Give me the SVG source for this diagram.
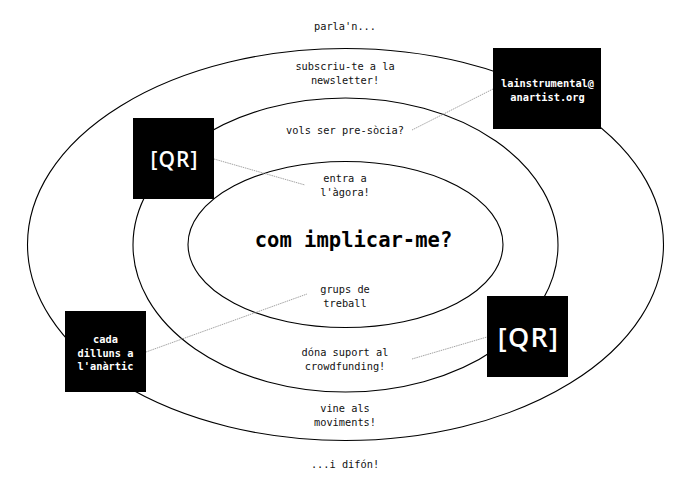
<svg xmlns="http://www.w3.org/2000/svg" width="690" height="487" viewBox="0 0 690 487">
<style>
.ring{fill:none;stroke:#000;stroke-width:1.1}
.lead{fill:none;stroke:#999;stroke-width:0.9;stroke-dasharray:1.5 0.8}
.t{font-family:"DejaVu Sans Mono","Liberation Mono",monospace;font-size:10.3px;fill:#111;text-anchor:middle}
.title{font-family:"DejaVu Sans Mono","Liberation Mono",monospace;font-size:20.5px;font-weight:bold;fill:#000;text-anchor:middle}
.box{fill:#000}
.bt{font-family:"DejaVu Sans Mono","Liberation Mono",monospace;font-size:10.3px;font-weight:bold;fill:#fff;text-anchor:middle}
.qr{font-family:"Open Sans","Noto Sans",sans-serif;font-weight:600;fill:#fff;text-anchor:middle}
</style>
<rect width="690" height="487" fill="#fff"/>
<g id="rings">
<ellipse id="outer" class="ring" cx="345.5" cy="244.5" rx="318" ry="196"/>
<ellipse id="middle" class="ring" cx="345.5" cy="245" rx="212.5" ry="147"/>
<ellipse id="inner" class="ring" cx="345.5" cy="244.5" rx="157.5" ry="83"/>
</g>
<g id="connectors">
<line class="lead" x1="412" y1="130" x2="493" y2="89"/>
<line class="lead" x1="214" y1="159" x2="305" y2="185"/>
<line class="lead" x1="146" y1="352" x2="307" y2="294"/>
<line class="lead" x1="412" y1="359" x2="487" y2="337"/>
</g>
<g id="labels">
<text class="t" x="345" y="30">parla'n...</text>
<text class="t" x="345" y="69.5">subscriu-te a la</text>
<text class="t" x="345" y="83.5">newsletter!</text>
<text class="t" x="345" y="133.5">vols ser pre-sòcia?</text>
<text class="t" x="345" y="182">entra a</text>
<text class="t" x="345" y="196">l'àgora!</text>
<text class="title" x="353.5" y="246.5">com implicar-me?</text>
<text class="t" x="345" y="292.5">grups de</text>
<text class="t" x="345" y="306.5">treball</text>
<text class="t" x="345" y="355.5">dóna suport al</text>
<text class="t" x="345" y="369.5">crowdfunding!</text>
<text class="t" x="345" y="411.5">vine als</text>
<text class="t" x="345" y="425.5">moviments!</text>
<text class="t" x="345" y="467.5">...i difón!</text>
</g>
<g id="email">
<rect class="box" x="493" y="48" width="108" height="81"/>
<text class="bt" x="547.5" y="86.5">lainstrumental@</text>
<text class="bt" x="547.5" y="100.5">anartist.org</text>
</g>
<g id="qr1">
<rect class="box" x="133" y="118" width="81" height="81"/>
<text class="qr" x="174.5" y="167" font-size="21" letter-spacing="1">[QR]</text>
</g>
<g id="dilluns">
<rect class="box" x="65" y="311" width="81" height="81"/>
<text class="bt" x="105.5" y="343">cada</text>
<text class="bt" x="105.5" y="356.5">dilluns a</text>
<text class="bt" x="105.5" y="370">l'anàrtic</text>
</g>
<g id="qr2">
<rect class="box" x="487" y="296" width="81" height="81"/>
<text class="qr" x="528.5" y="347" font-size="27" letter-spacing="1.3">[QR]</text>
</g>
</svg>
